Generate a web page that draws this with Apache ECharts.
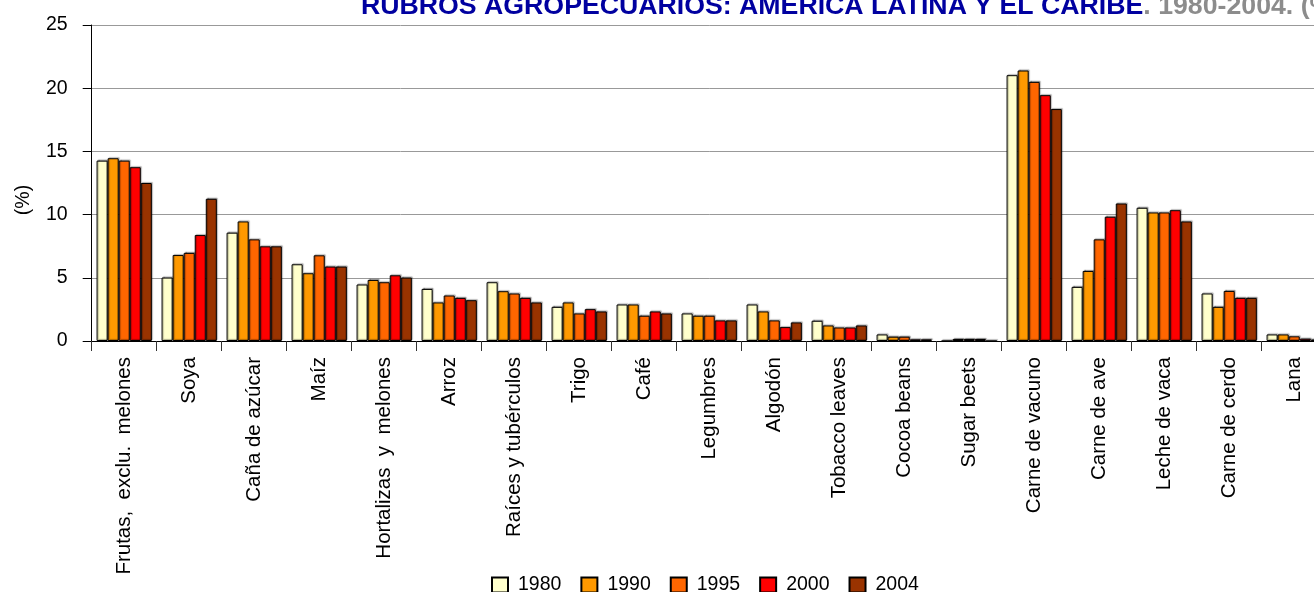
<!DOCTYPE html>
<html>
<head>
<meta charset="utf-8">
<script src="https://cdn.jsdelivr.net/npm/echarts@6/dist/echarts.min.js"></script>
<style>
html,body{margin:0;padding:0;overflow:hidden;background:#fff;}
#c{width:1340px;height:592px;}
</style>
</head>
<body>
<div id="c"></div>
<script>
var categories = ['Frutas,  exclu.  melones','Soya','Caña de azúcar','Maíz','Hortalizas  y  melones','Arroz','Raíces y tubérculos','Trigo','Café','Legumbres','Algodón','Tobacco leaves','Cocoa beans','Sugar beets','Carne de vacuno','Carne de ave','Leche de vaca','Carne de cerdo','Lana'];
var years = ['1980','1990','1995','2000','2004'];
var v1980 = [14.27, 5.02, 8.57, 6.07, 4.47, 4.12, 4.65, 2.70, 2.89, 2.18, 2.89, 1.60, 0.52, 0,    21.03, 4.28, 10.54, 3.76, 0.52];
var v1990 = [14.46, 6.80, 9.46, 5.36, 4.83, 3.05, 3.94, 3.05, 2.89, 2.00, 2.34, 1.23, 0.34, 0.16, 21.40, 5.54, 10.17, 2.70, 0.52];
var v1995 = [14.27, 6.97, 8.04, 6.78, 4.65, 3.60, 3.76, 2.18, 2.00, 2.00, 1.63, 1.07, 0.34, 0.16, 20.50, 8.04, 10.17, 3.96, 0.37];
var v2000 = [13.75, 8.38, 7.49, 5.89, 5.20, 3.41, 3.41, 2.52, 2.34, 1.63, 1.10, 1.07, 0.13, 0.16, 19.45, 9.83, 10.35, 3.41, 0.18];
var v2004 = [12.50, 11.25, 7.49, 5.89, 5.02, 3.23, 3.05, 2.34, 2.18, 1.63, 1.47, 1.23, 0.13, 0,   18.35, 10.88, 9.46, 3.41, 0.12];
var yTicks = [0, 5, 10, 15, 20, 25];
var colors = ['#FFFFCC','#FF9900','#FF6600','#FF0000','#993300'];
var seriesValues = [v1980, v1990, v1995, v2000, v2004];

var FONT = '"Liberation Sans",Arial,sans-serif';

var chart = echarts.init(document.getElementById('c'), null, {renderer:'canvas'});
var series = years.map(function(y, i){
  return {
    name: y,
    type: 'bar',
    data: seriesValues[i],
    barGap: '0%',
    barCategoryGap: '15%',
    itemStyle: {
      color: colors[i],
      borderColor: '#000',
      borderWidth: 1,
      shadowColor: 'rgba(0,0,0,0.35)',
      shadowOffsetX: 1,
      shadowOffsetY: -1,
      shadowBlur: 1
    },
    emphasis: {disabled: true},
    animation: false
  };
});

chart.setOption({
  animation: false,
  title: {
    left: 356,
    top: -12,
    text: '{a|RUBROS AGROPECUARIOS: AMÉRICA LATINA Y EL CARIBE}{b|. 1980-2004. (%)}',
    textStyle: {
      rich: {
        a: {fontFamily: FONT, fontWeight: 'bold', fontSize: 26.7, color: '#0000A0'},
        b: {fontFamily: FONT, fontWeight: 'bold', fontSize: 26.7, color: '#8C8C8C'}
      }
    }
  },
  legend: {
    left: 486,
    top: 570,
    icon: 'rect',
    itemWidth: 16,
    itemHeight: 15,
    itemGap: 19,
    data: years,
    textStyle: {fontFamily: FONT, fontSize: 19.5, color: '#000', padding: [0,0,0,5]}
  },
  grid: {left: 91.7, top: 25, right: 13.3, bottom: 251, containLabel: false, outerBoundsMode: 'none'},
  xAxis: {
    type: 'category',
    data: categories,
    boundaryGap: true,
    axisLine: {show: true, lineStyle: {color: '#000', width: 1}},
    axisTick: {show: true, length: 10, inside: false, alignWithLabel: false, lineStyle: {color: '#333'}},
    axisLabel: {rotate: 90, margin: 16, interval: 0, fontFamily: FONT, fontSize: 20.5, color: '#000'},
    splitLine: {show: false}
  },
  yAxis: {
    type: 'value',
    min: yTicks[0],
    max: yTicks[yTicks.length - 1],
    interval: 5,
    axisLine: {show: true, lineStyle: {color: '#000', width: 1}},
    axisTick: {show: true, length: 9, inside: false, lineStyle: {color: '#000'}},
    axisLabel: {margin: 24, fontFamily: FONT, fontSize: 19.5, color: '#000'},
    splitLine: {show: true, lineStyle: {color: '#999', width: 1}}
  },
  graphic: [{
    type: 'text',
    x: 24,
    y: 200,
    rotation: Math.PI / 2,
    style: {text: '(%)', fontFamily: FONT, fontSize: 19.5, fill: '#000', textAlign: 'center', textVerticalAlign: 'middle'}
  }],
  series: series
});
</script>
</body>
</html>
